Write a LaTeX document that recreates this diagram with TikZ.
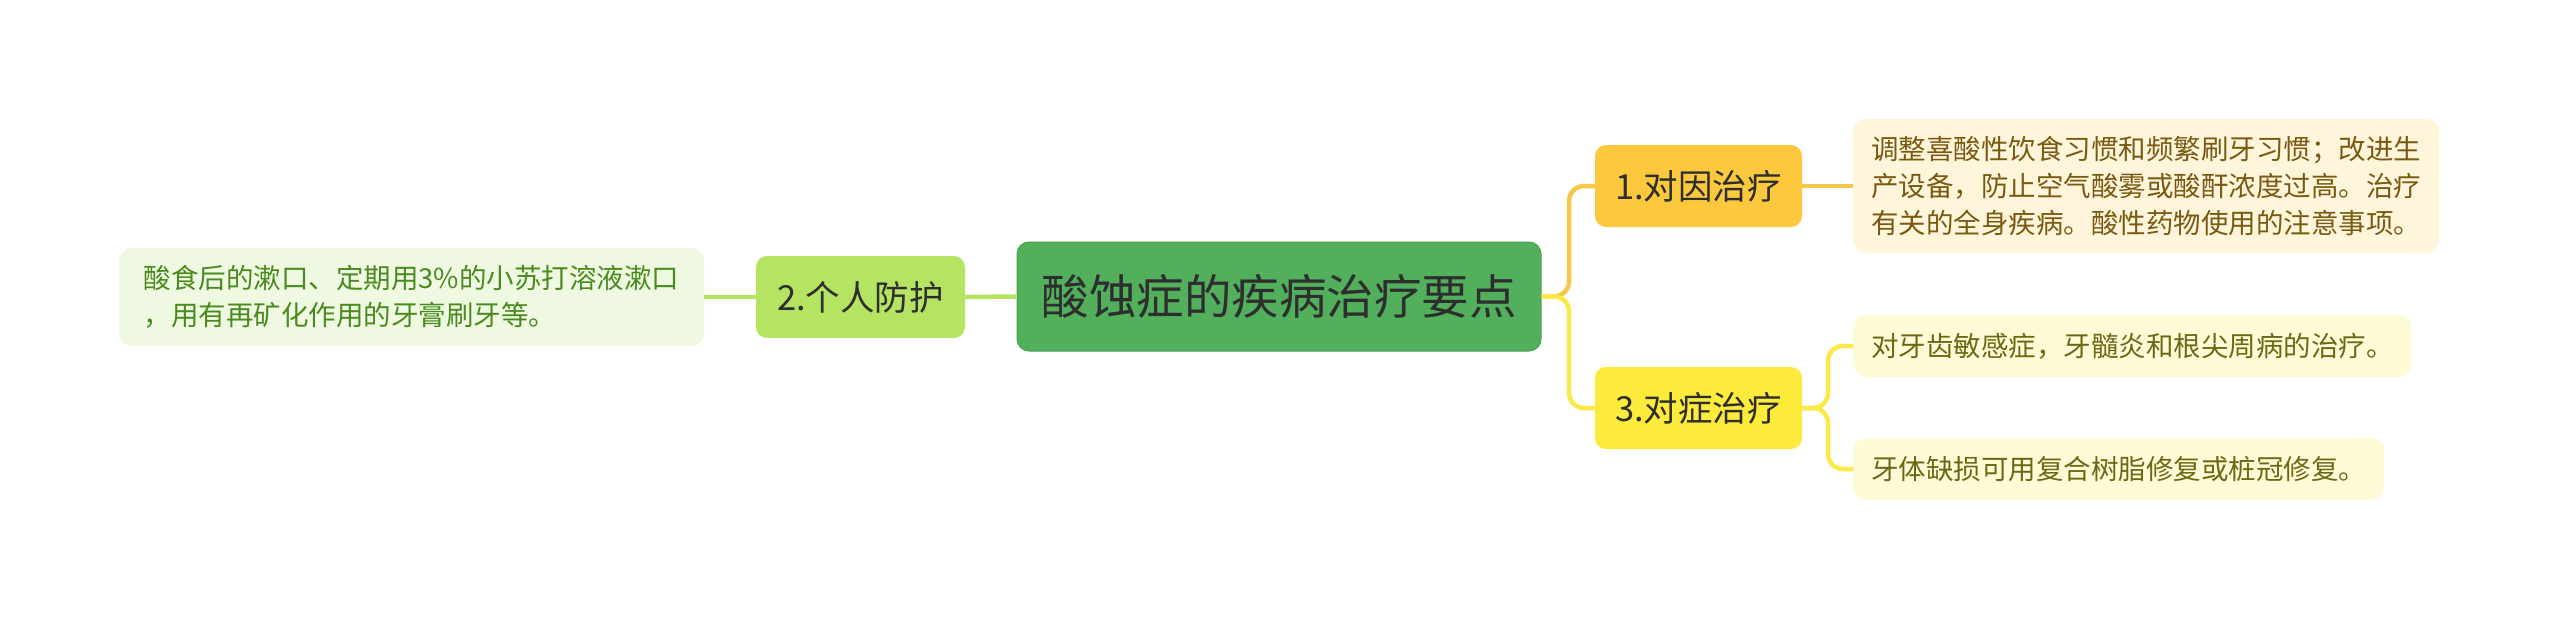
\documentclass[tikz,border=0pt]{standalone}
\usepackage{fontspec}
\setmainfont{Noto Sans CJK SC}
\definecolor{cfill}{HTML}{52AF5B}
\definecolor{cdraw}{HTML}{47A250}
\definecolor{tdark}{HTML}{2E2E2E}
\definecolor{onefill}{HTML}{FBC83E}
\definecolor{threefill}{HTML}{FDEB3C}
\definecolor{twofill}{HTML}{B5E463}
\definecolor{onebox}{HTML}{FEF5DB}
\definecolor{threebox}{HTML}{FFFBD6}
\definecolor{twobox}{HTML}{EFF9E2}
\definecolor{onetext}{HTML}{7A5A12}
\definecolor{threetext}{HTML}{6E6815}
\definecolor{twotext}{HTML}{4A8A1E}
\definecolor{oneline}{HTML}{F7C74A}
\definecolor{threeline}{HTML}{FBE94A}
\definecolor{twoline}{HTML}{B5E463}
\begin{document}
\begin{tikzpicture}[x=1pt,y=-1pt,
  centerbox/.style={rounded corners=12pt,fill=cfill,draw=cdraw,line width=1pt,text=tdark,
    minimum width=524pt,minimum height=109pt,inner sep=0pt,font=\fontsize{47.5}{56}\selectfont},
  topicbox/.style={rounded corners=11pt,text=tdark,minimum width=207pt,minimum height=82pt,
    inner sep=0pt,font=\fontsize{34.5}{40}\selectfont},
  leafbox/.style={rounded corners=13pt,inner xsep=18pt,inner ysep=0pt,align=left,anchor=west,
    font=\fontsize{27.5}{36.7}\selectfont},
  conn/.style={line width=4.5pt,rounded corners=15pt}
]
\useasboundingbox (0,0) rectangle (2560,621);
\node[centerbox] (c) at (1279,296.5) {酸蚀症的疾病治疗要点};
\node[topicbox,fill=onefill] (n1) at (1698.5,186) {1.对因治疗};
\node[topicbox,fill=threefill] (n3) at (1698.5,408) {3.对症治疗};
\node[topicbox,fill=twofill,minimum width=209pt] (n2) at (860.5,297) {2.个人防护};
\node[leafbox,fill=onebox,text=onetext,minimum width=586pt,minimum height=134pt] (b1) at (1853,186)
  {调整喜酸性饮食习惯和频繁刷牙习惯；改进生\\产设备，防止空气酸雾或酸酐浓度过高。治疗\\有关的全身疾病。酸性药物使用的注意事项。};
\node[leafbox,fill=threebox,text=threetext,minimum width=557pt,minimum height=62pt] (b3a) at (1853,346)
  {对牙齿敏感症，牙髓炎和根尖周病的治疗。};
\node[leafbox,fill=threebox,text=threetext,minimum width=531pt,minimum height=62pt] (b3b) at (1853,469)
  {牙体缺损可用复合树脂修复或桩冠修复。};
\node[leafbox,fill=twobox,text=twotext,minimum width=585pt,minimum height=98pt,anchor=center] (b2) at (411.5,297)
  {酸食后的漱口、定期用3\%的小苏打溶液漱口\\，用有再矿化作用的牙膏刷牙等。};
\coordinate (t1) at (1569,296.5);
\coordinate (t3) at (1828,408);
\draw[conn,oneline] (c.east) -- (t1) |- (n1.west);
\draw[conn,threeline] (c.east) -- (t1) |- (n3.west);
\draw[conn,oneline] (n1.east) -- (b1.west);
\draw[conn,threeline] (n3.east) -- (t3) |- (b3a.west);
\draw[conn,threeline] (n3.east) -- (t3) |- (b3b.west);
\draw[conn,twoline] (c.west) -- (n2.east);
\draw[conn,twoline] (n2.west) -- (b2.east);
\end{tikzpicture}
\end{document}
